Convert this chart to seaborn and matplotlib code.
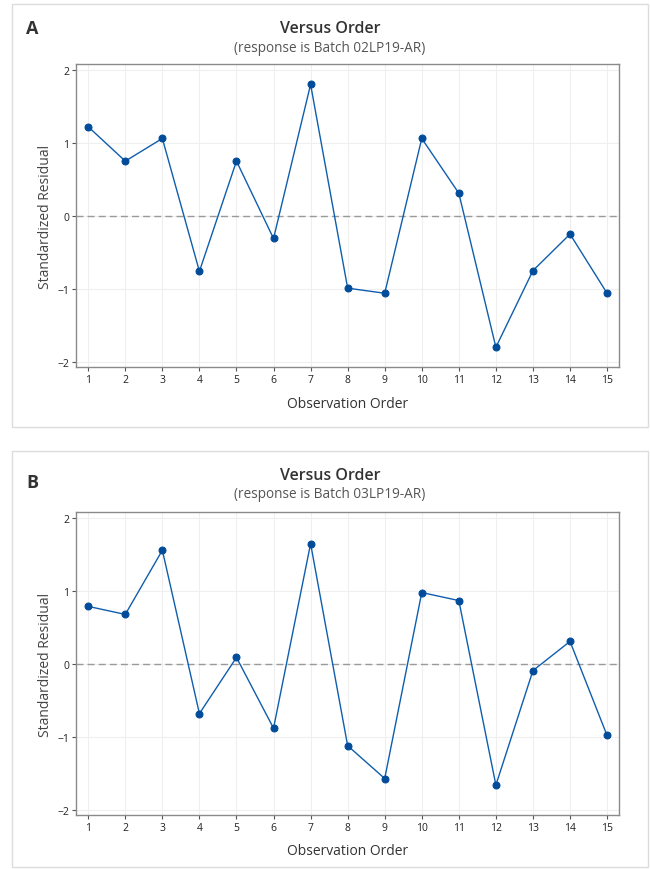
import matplotlib
matplotlib.use("Agg")
import matplotlib.pyplot as plt
import seaborn as sns
import pandas as pd
from matplotlib.patches import Rectangle

order = list(range(1, 16))
resid_a = [1.22, 0.75, 1.06, -0.76, 0.75, -0.31, 1.80, -0.99, -1.06, 1.06, 0.31, -1.80, -0.75, -0.25, -1.06]
resid_b = [0.79, 0.68, 1.56, -0.68, 0.09, -0.88, 1.65, -1.12, -1.57, 0.98, 0.87, -1.66, -0.09, 0.31, -0.98]
panel_labels = ["A", "B"]
subtitles = ["(response is Batch 02LP19-AR)", "(response is Batch 03LP19-AR)"]
y_ticks = [-2, -1, 0, 1, 2]

sns.set_style("white")
plt.rcParams['font.family'] = ['Open Sans', 'DejaVu Sans']

W, H = 650, 870
fig = plt.figure(figsize=(6.5, 8.7), dpi=100)

def fx(px):
    return px / W

def fy(py):
    return 1 - py / H

panels = [
    dict(box=(12, 5, 648, 428), ax=(76, 65, 619.3, 368), title_y=29, sub_y=48, lab_y=29, xlabel_y=405),
    dict(box=(12, 452, 648, 868), ax=(76, 513.3, 619.3, 816), title_y=476, sub_y=495, lab_y=483, xlabel_y=852),
]

blue = "#0F5EAE"
for i, (p, vals) in enumerate(zip(panels, [resid_a, resid_b])):
    bx0, by0, bx1, by1 = p["box"]
    fig.patches.append(Rectangle((fx(bx0), fy(by1)), fx(bx1 - bx0), (by1 - by0) / H,
                                 transform=fig.transFigure, fill=False,
                                 edgecolor="#dcdcdc", linewidth=1.0))
    x0, y0, x1, y1 = p["ax"]
    ax = fig.add_axes([fx(x0), fy(y1), fx(x1 - x0), (y1 - y0) / H])
    df = pd.DataFrame({"order": order, "resid": vals})
    ax.axhline(0, color="#999999", linestyle=(0, (5, 3)), linewidth=1.0, zorder=1)
    sns.lineplot(data=df, x="order", y="resid", ax=ax, color=blue, linewidth=1.0,
                 marker="o", markersize=5, markeredgecolor="#004C9A",
                 markerfacecolor="#004C9A", zorder=3)
    ax.set_xlim(0.67, 15.33)
    ax.set_ylim(-2.07, 2.08)
    ax.set_xticks(order)
    ax.set_yticks(y_ticks)
    ax.grid(True, color="#efefef", linewidth=0.8)
    ax.set_axisbelow(True)
    for s in ax.spines.values():
        s.set_color("#8a8a8a")
        s.set_linewidth(1.0)
    ax.tick_params(axis="both", direction="out", length=3, width=0.8, color="#555555",
                   labelsize=7.5, labelcolor="#222222", pad=2)
    ax.tick_params(left=True, bottom=True)
    ax.set_xlabel("")
    ax.set_ylabel("Standardized Residual", fontsize=10, color="#444444", labelpad=3)
    fig.text(fx((x0 + x1) / 2), fy(p["xlabel_y"]), "Observation Order", ha="center", va="center",
             fontsize=10, color="#333333")
    cx = fx((bx0 + bx1) / 2)
    fig.text(cx, fy(p["title_y"]), "Versus Order", ha="center", va="center",
             fontsize=11.5, color="#333333", fontweight="semibold")
    fig.text(cx, fy(p["sub_y"]), subtitles[i], ha="center", va="center",
             fontsize=9.8, color="#555555")
    fig.text(fx(26), fy(p["lab_y"]), panel_labels[i], ha="left", va="center",
             fontsize=13, color="#333333", fontweight="bold")

fig.savefig("out.png", dpi=100)
